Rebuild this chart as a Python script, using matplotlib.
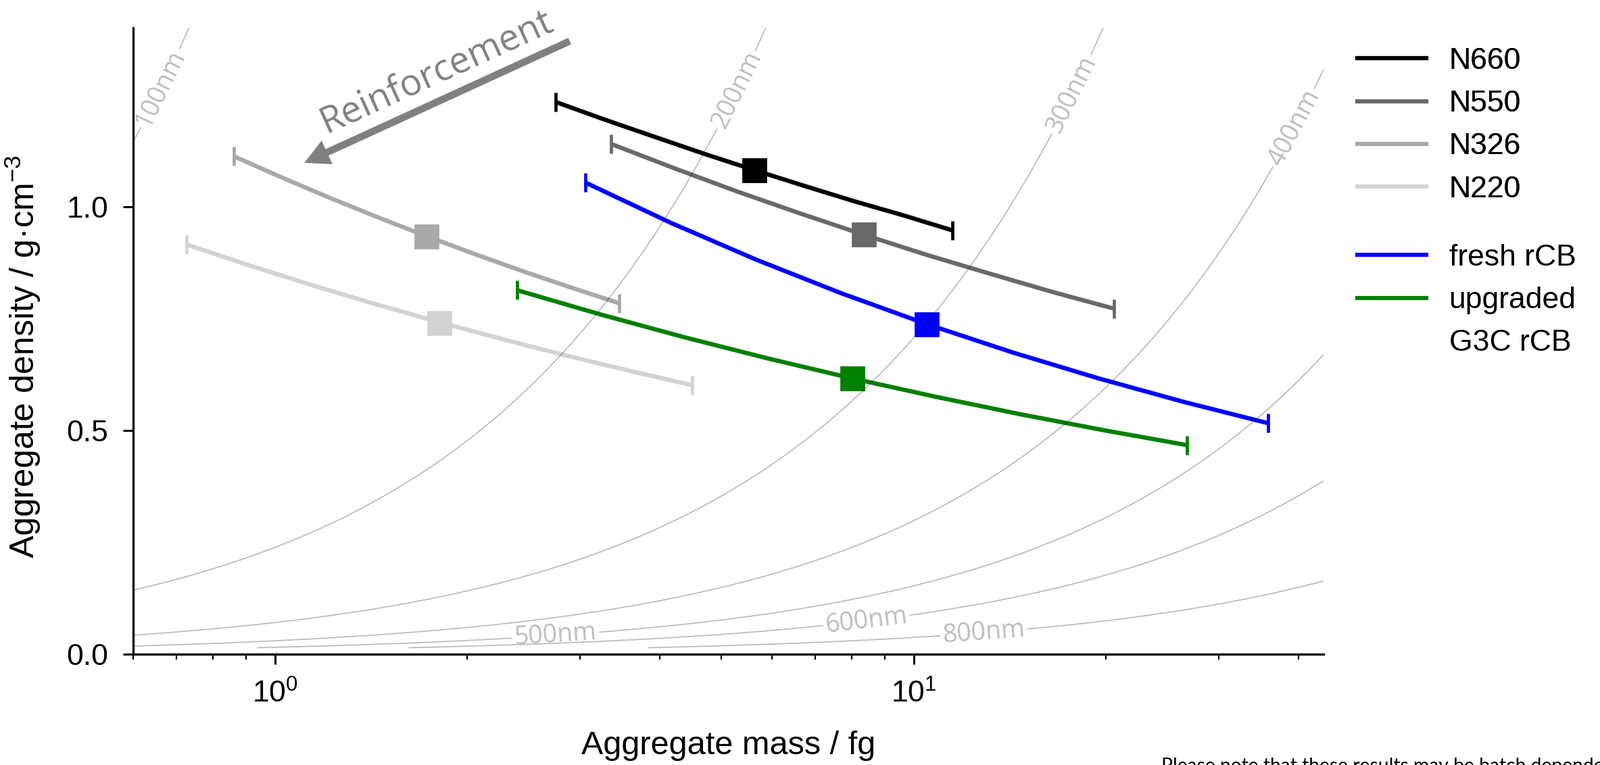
import numpy as np
import matplotlib
matplotlib.use("Agg")
import matplotlib.pyplot as plt
from matplotlib.lines import Line2D

plt.rcParams['font.family'] = ['Liberation Sans', 'DejaVu Sans']
plt.rcParams['mathtext.default'] = 'regular'

# curves: aggregate mass (fg) and density (g/cm3)
mass_n660 = [2.75, 3.29, 3.93, 4.70, 5.62, 6.72, 8.03, 9.61, 11.5]
dens_n660 = [1.234, 1.194, 1.156, 1.118, 1.082, 1.047, 1.013, 0.981, 0.947]
mass_n550 = [3.36, 4.215, 5.288, 6.634, 8.322, 10.44, 13.10, 16.43, 20.6]
dens_n550 = [1.140, 1.086, 1.034, 0.985, 0.938, 0.893, 0.851, 0.810, 0.772]
mass_n326 = [0.862, 1.0255, 1.220, 1.4515, 1.727, 2.0545, 2.444, 2.908, 3.46]
dens_n326 = [1.1125, 1.0649, 1.0193, 0.9757, 0.9339, 0.8940, 0.8557, 0.8191, 0.784]
mass_n220 = [0.727, 0.913, 1.1467, 1.4401, 1.8087, 2.2715, 2.8528, 3.5828, 4.50]
dens_n220 = [0.9153, 0.8684, 0.8239, 0.7817, 0.7417, 0.7037, 0.6676, 0.6334, 0.601]
mass_fresh = [3.06, 4.163, 5.663, 7.704, 10.48, 14.26, 19.40, 26.39, 35.9]
dens_fresh = [1.054, 0.964, 0.8817, 0.8064, 0.7375, 0.6745, 0.6169, 0.5642, 0.516]
mass_g3c = [2.39, 3.233, 4.373, 5.916, 8.003, 10.83, 14.64, 19.81, 26.8]
dens_g3c = [0.8136, 0.7591, 0.7082, 0.6607, 0.6164, 0.5751, 0.5365, 0.5006, 0.467]

# centre markers (squares)
mass_centre = [5.63, 8.36, 1.727, 1.809, 10.47, 8.01]
dens_centre = [1.081, 0.938, 0.934, 0.740, 0.737, 0.616]

labels = ['N660', 'N550', 'N326', 'N220', 'fresh rCB', 'upgraded']
colors = ['black', '#696969', '#a9a9a9', '#d3d3d3', 'blue', 'green']

# iso-diameter guide lines (nm)
d_levels = [100, 200, 300, 400, 500, 600, 800]
label_pos = [(0.658, 1.266), (5.29, 1.26), (17.7, 1.25), (39.3, 1.176),
             (2.75, 0.042), (8.43, 0.0745), (12.87, 0.048)]


def main():
    fig = plt.figure(figsize=(11.835, 5.66), dpi=200)
    ax = fig.add_axes([0.0834, 0.1449, 0.7438, 0.8189])
    ax.set_xscale('log')
    ax.set_xlim(0.6, 43.8)
    ax.set_ylim(0, 1.4)

    series = [(mass_n660, dens_n660), (mass_n550, dens_n550),
              (mass_n326, dens_n326), (mass_n220, dens_n220),
              (mass_fresh, dens_fresh), (mass_g3c, dens_g3c)]

    for i, (m, d) in enumerate(series):
        ax.plot(m, d, color=colors[i], lw=2.3, zorder=3, solid_capstyle='butt')
        ax.plot([m[0], m[-1]], [d[0], d[-1]], '|', color=colors[i],
                ms=10, mew=1.7, zorder=3)
        ax.plot(mass_centre[i], dens_centre[i], 's', color=colors[i],
                ms=12.3, zorder=4)

    # diameter contours: rho = m / (pi/6 * d^3)
    mm = np.logspace(np.log10(0.6), np.log10(44), 400)
    rr = np.linspace(0.0143, 1.4, 400)
    M, R = np.meshgrid(mm, rr)
    D = 100 * (M / (np.pi / 6 * R)) ** (1 / 3)
    cs = ax.contour(M, R, D, levels=d_levels, colors='k', alpha=0.28,
                    linewidths=0.6, zorder=5)
    fmt = {lv: f'{lv}nm' for lv in d_levels}
    txts = ax.clabel(cs, fmt=fmt, manual=label_pos, inline=True,
                     inline_spacing=7, fontsize=13.5)
    for t in txts:
        t.set_color('#bdbdbd')
        t.set_alpha(1)
        t.set_family('Open Sans')

    # reinforcement arrow
    ax.annotate('', xy=(1.111, 1.098), xytext=(2.892, 1.370),
                arrowprops=dict(arrowstyle='simple,head_width=1.38,head_length=1.33,tail_width=0.38',
                                mutation_scale=10, color='#808080', lw=0,
                                shrinkA=0, shrinkB=0), zorder=6)
    ax.text(1.79, 1.302, 'Reinforcement', rotation=24.5, rotation_mode='anchor',
            ha='center', va='center', fontsize=19.5, color='#808080',
            family='Open Sans', zorder=6)

    for s in ['top', 'right']:
        ax.spines[s].set_visible(False)
    for s in ['left', 'bottom']:
        ax.spines[s].set_linewidth(1.2)
    ax.set_yticks([0, 0.5, 1.0])
    ax.set_yticklabels(['0.0', '0.5', '1.0'])
    ax.tick_params(which='major', length=5.4, width=1.1, labelsize=16, pad=8)
    ax.tick_params(which='minor', length=3, width=0.8)

    ax.set_xlabel('Aggregate mass / fg', fontsize=17.5)
    ax.xaxis.set_label_coords(0.5, -0.122)
    ax.set_ylabel('Aggregate density / g·cm$^{-3}$', fontsize=18)
    ax.yaxis.set_label_coords(-0.0763, 0.4747)

    h1 = [Line2D([], [], color=c, lw=2.2) for c in colors[:4]]
    leg1 = fig.legend(h1, labels[:4], loc='upper left',
                      bbox_to_anchor=(2008 / 2367, 1 - 70 / 1132),
                      frameon=False, fontsize=16, handlelength=2.3,
                      handletextpad=0.75, labelspacing=0.5, borderpad=0,
                      borderaxespad=0)
    h2 = [Line2D([], [], color=c, lw=2.2) for c in colors[4:]]
    h2.append(Line2D([], [], color='none'))
    fig.legend(h2, ['fresh rCB', 'upgraded', 'G3C rCB'], loc='upper left',
               bbox_to_anchor=(2008 / 2367, 1 - 361 / 1132),
               frameon=False, fontsize=16, handlelength=2.3,
               handletextpad=0.75, labelspacing=0.5, borderpad=0,
               borderaxespad=0)
    fig.add_artist(leg1)

    fig.text(1718 / 2367, 1 - 1121 / 1132,
             'Please note that these results may be batch dependent',
             fontsize=10.2, family='Lato', va='top', ha='left')

    fig.savefig('out.png', dpi=200)


if __name__ == "__main__":
    main()
